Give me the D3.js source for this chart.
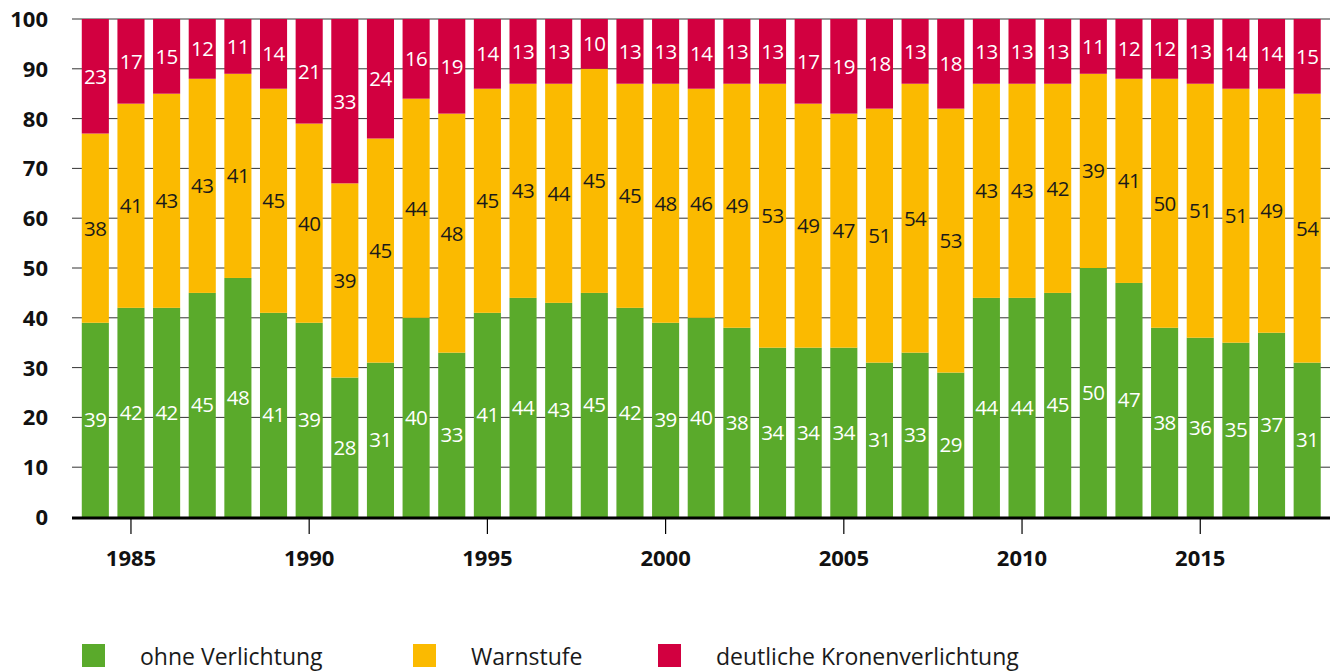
<!DOCTYPE html>
<html>
<head>
<meta charset="utf-8">
<script src="https://cdn.jsdelivr.net/npm/d3@7"></script>
<style>
  body { margin: 0; background: #fff; }
  text { font-family: "Open Sans", "Noto Sans", sans-serif; }
</style>
</head>
<body>
<div id="chart"></div>
<script>
const years = d3.range(1984, 2019);
const ohne = [39,42,42,45,48,41,39,28,31,40,33,41,44,43,45,42,39,40,38,34,34,34,31,33,29,44,44,45,50,47,38,36,35,37,31];
const warn = [38,41,43,43,41,45,40,39,45,44,48,45,43,44,45,45,48,46,49,53,49,47,51,54,53,43,43,42,39,41,50,51,51,49,54];
const deutlich = [23,17,15,12,11,14,21,33,24,16,19,14,13,13,10,13,13,14,13,13,17,19,18,13,18,13,13,13,11,12,12,13,14,14,15];
const seriesNames = ['ohne Verlichtung', 'Warnstufe', 'deutliche Kronenverlichtung'];
const colors = ['#5aaa2b', '#fbba00', '#d20040'];
const yTicks = [0,10,20,30,40,50,60,70,80,90,100];
const xTicks = [1985,1990,1995,2000,2005,2010,2015];

const W = 1331, H = 672;
const svg = d3.select('#chart').append('svg').attr('width', W).attr('height', H);

// scales
const x = d3.scaleBand().domain(years).range([77.5, 1325]).paddingInner(0.24).paddingOuter(0.12);
const y = d3.scaleLinear().domain([0, 100]).range([517, 19]);

// grid lines
svg.append('g').selectAll('line').data(yTicks.slice(1)).join('line')
  .attr('x1', 72).attr('x2', 1330)
  .attr('y1', d => y(d)).attr('y2', d => y(d))
  .attr('stroke', '#333').attr('stroke-width', 1);

// stack
const rows = years.map((yr, i) => ({ year: yr, s0: ohne[i], s1: warn[i], s2: deutlich[i] }));
const stack = d3.stack().keys(['s0', 's1', 's2'])(rows);

const g = svg.append('g');
stack.forEach((layer, k) => {
  g.append('g').selectAll('rect').data(layer).join('rect')
    .attr('x', d => x(d.data.year))
    .attr('width', x.bandwidth())
    .attr('y', d => y(d[1]))
    .attr('height', d => y(d[0]) - y(d[1]))
    .attr('fill', colors[k]);
  g.append('g').selectAll('text').data(layer).join('text')
    .attr('x', d => x(d.data.year) + x.bandwidth() / 2)
    .attr('y', d => (y(d[0]) + y(d[1])) / 2)
    .attr('dy', '0.36em')
    .attr('text-anchor', 'middle')
    .attr('font-size', 20.5)
    .attr('letter-spacing', -0.5)
    .attr('fill', k === 1 ? '#1a1a1a' : '#fff')
    .text(d => d[1] - d[0]);
});

// x axis baseline + ticks
svg.append('line').attr('x1', 72).attr('x2', 1330).attr('y1', 518).attr('y2', 518)
  .attr('stroke', '#000').attr('stroke-width', 3);
const xa = svg.append('g');
xa.selectAll('line').data(xTicks).join('line')
  .attr('x1', d => x(d) + x.bandwidth() / 2).attr('x2', d => x(d) + x.bandwidth() / 2)
  .attr('y1', 518).attr('y2', 534).attr('stroke', '#000').attr('stroke-width', 1.2);
xa.selectAll('text').data(xTicks).join('text')
  .attr('x', d => x(d) + x.bandwidth() / 2).attr('y', 566)
  .attr('text-anchor', 'middle').attr('font-size', 22).attr('font-weight', 'bold')
  .attr('fill', '#111').text(d => d);

// y axis labels
svg.append('g').selectAll('text').data(yTicks).join('text')
  .attr('x', 48).attr('y', d => y(d)).attr('dy', '0.36em')
  .attr('text-anchor', 'end').attr('font-size', 22).attr('font-weight', 'bold')
  .attr('fill', '#111').text(d => d);

// legend
const legX = [82, 413, 658];
const leg = svg.append('g').selectAll('g').data(seriesNames).join('g')
  .attr('transform', (d, i) => `translate(${legX[i]},644)`);
leg.append('rect').attr('width', 23).attr('height', 23).attr('fill', (d, i) => colors[i]);
leg.append('text').attr('x', 58).attr('y', 21).attr('font-size', 23)
  .attr('fill', '#1a1a1a').text(d => d);
</script>
</body>
</html>
